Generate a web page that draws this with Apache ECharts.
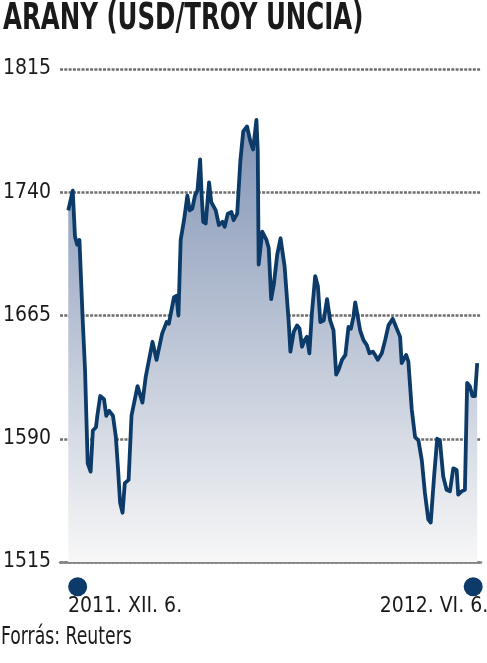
<!DOCTYPE html>
<html>
<head>
<meta charset="utf-8">
<script src="https://cdn.jsdelivr.net/npm/echarts@6/dist/echarts.min.js"></script>
<style>
  html, body { margin: 0; padding: 0; background: #fff; }
  #chart { width: 487px; height: 663px; }
</style>
</head>
<body>
<div id="chart"></div>
<script>
// days since 2011-12-06
const days = [0,2,3,4,5,6.4,7.5,8.7,10,11,
  12.4,13,14.3,16,17,18.3,20,21.3,22.3,23.2,
  24.3,25.3,27,28.3,31,33.2,34.7,37.7,39.5,42,
  44,45,47.3,48.4,49.3,50.3,51.8,53.3,54.3,55.5,
  56.7,57.8,59,59.7,60.4,61.5,63,64,66,67.4,
  69,70,71.4,73,74,75.6,77,78.3,80,81.5,
  82.7,84.2,84.8,85.2,86.8,88.7,89.7,90.8,92,93.5,
  95,96.8,98.6,99.4,100.9,102.4,103.5,104.6,105.8,106.8,
  107.9,109,110.5,111.7,112.8,114.3,115.8,117.2,118.7,119.9,
  121,122.5,124,125.4,126.5,127.6,128.4,129.2,130.6,132.1,
  133.6,134.8,136.3,137.3,138.5,140.3,141.8,143.3,145.2,147,
  148.5,149.2,151.2,152.2,153.7,155.2,156.7,158.2,159.6,161.1,
  162.2,163.7,165.1,166.3,167.8,169.3,170.8,172.3,173.8,174.5,
  176,177.5,178.5,179.7,180.9,182,183];

const prices = [1729,1741,1713,1708,1711,1664,1632,1575,1570,1595,
  1597,1604,1616,1614,1604,1607,1604,1591,1571,1551,
  1545,1563,1565,1604,1622,1612,1628,1649,1638,1654,
  1661,1660,1676,1677,1665,1711,1723,1738,1729,1730,
  1738,1741,1760,1738,1722,1721,1746,1734,1729,1720,
  1722,1719,1727,1728,1723,1727,1759,1777,1780,1771,
  1766,1784,1765,1696,1716,1711,1706,1675,1684,1702,
  1712,1695,1662,1643,1655,1659,1657,1646,1650,1652,
  1642,1666,1689,1683,1661,1662,1675,1662,1656,1629,
  1632,1638,1641,1658,1657,1664,1673,1667,1656,1650,
  1647,1642,1643,1641,1638,1642,1650,1659,1663,1657,
  1652,1636,1641,1637,1608,1591,1589,1577,1557,1541,
  1539,1567,1590,1589,1567,1559,1558,1572,1571,1556,
  1558,1559,1624,1622,1616,1616,1636];

const endDays = [0, 183];
const endLabels = ['2011. XII. 6.', '2012. VI. 6.'];

const FONT = '"DejaVu Sans Condensed", "Liberation Sans Narrow", sans-serif';
const NAVY = '#0c3b69';
const INK = '#1a1a1a';

const chart = echarts.init(document.getElementById('chart'));

chart.setOption({
  animation: false,
  grid: { left: 59, right: 6, top: 69, bottom: 101 },
  xAxis: {
    type: 'value',
    min: -3.7,
    max: 184.7,
    axisLine: { show: true, lineStyle: { color: '#858585', width: 2.5 } },
    axisTick: { show: false },
    axisLabel: { show: false },
    splitLine: { show: false }
  },
  yAxis: {
    type: 'value',
    min: 1515,
    max: 1815,
    interval: 75,
    axisLine: { show: false },
    axisTick: { show: false },
    axisLabel: {
      align: 'left',
      margin: 57,
      fontFamily: FONT,
      fontSize: 21,
      color: INK,
      formatter: v => String(v)
    },
    splitLine: {
      lineStyle: { color: '#6e6e6e', width: 2.5, type: [3, 1.3] }
    }
  },
  graphic: [
    {
      type: 'text',
      left: 3,
      top: 1,
      scaleX: 0.735,
      style: {
        text: 'ARANY (USD/TROY UNCIA)',
        font: 'bold 37px ' + FONT,
        fill: INK
      }
    },
    {
      type: 'text',
      left: 1,
      top: 626,
      scaleX: 0.8,
      style: {
        text: 'Forrás: Reuters',
        font: '24px ' + FONT,
        fill: INK
      }
    }
  ],
  series: [
    {
      type: 'line',
      data: days.map((d, i) => [d, prices[i]]),
      showSymbol: false,
      lineStyle: { color: NAVY, width: 3.8, join: 'round' },
      areaStyle: {
        origin: 'start',
        opacity: 1,
        color: new echarts.graphic.LinearGradient(0, 0, 0, 1, [
          { offset: 0, color: '#8294b5' },
          { offset: 1, color: '#f7f7f7' }
        ])
      }
    },
    {
      type: 'scatter',
      clip: false,
      symbol: 'circle',
      symbolSize: 19,
      itemStyle: { color: NAVY, opacity: 1 },
      data: endDays.map((d, i) => ({
        value: [d, 1515],
        symbolOffset: i === 0 ? [9.4, 24.7] : [-4, 24.7],
        label: {
          show: true,
          position: 'bottom',
          distance: 0,
          align: i === 0 ? 'left' : 'right',
          offset: i === 0 ? [-9.7, 0] : [15, 0],
          formatter: endLabels[i],
          fontFamily: FONT,
          fontSize: 21,
          color: INK,
          opacity: 1
        }
      }))
    }
  ]
});
</script>
</body>
</html>
